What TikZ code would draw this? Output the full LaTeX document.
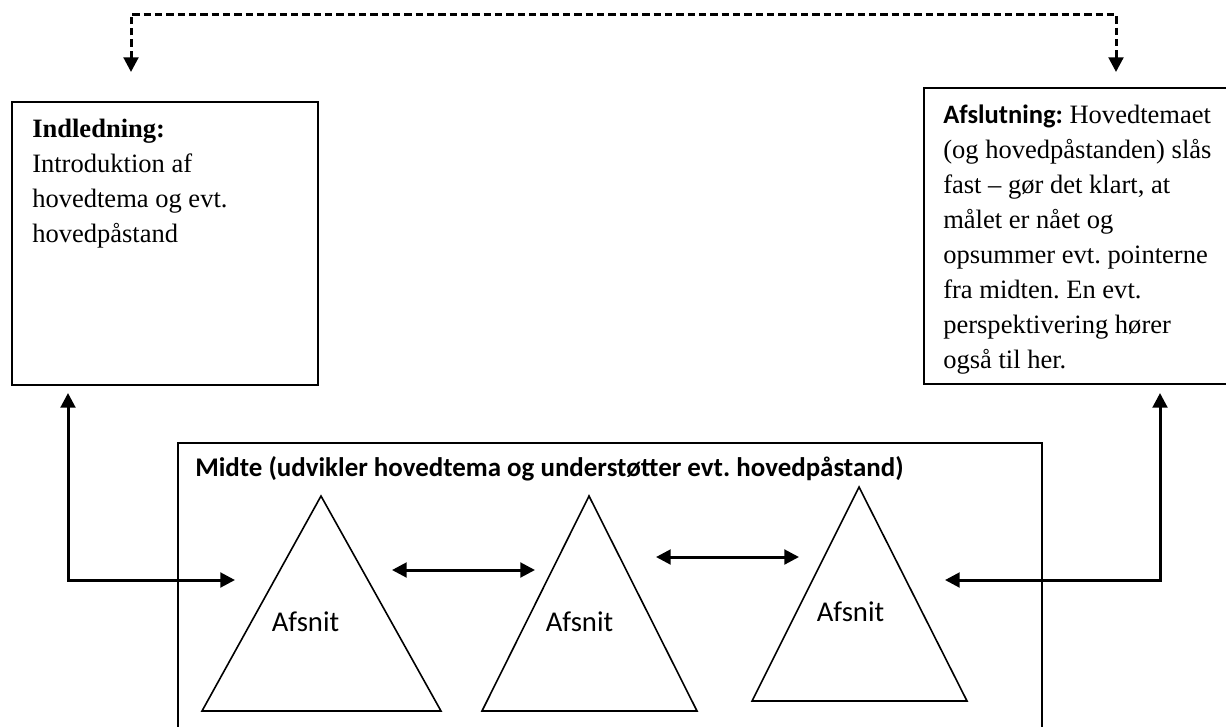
\documentclass[tikz,border=0pt]{standalone}
\usepackage{fontspec}
\setmainfont{Liberation Serif}
\newfontfamily\calibri{Carlito}
\usetikzlibrary{arrows.meta, positioning}
\frenchspacing

\tikzset{
  boxframe/.style={draw, line width=1.3pt, inner sep=0pt, anchor=north west},
  boxtext/.style={anchor=north west, inner sep=0pt, align=left,
    font=\fontsize{19.9}{26.25}\selectfont},
  afsnit/.style={inner sep=0pt, anchor=base, font=\calibri\fontsize{21.5}{26}\selectfont},
  tri/.style={line width=1.2pt, line join=miter},
  link/.style={line width=2.25pt, {Triangle[length=11pt,width=11pt]}-{Triangle[length=11pt,width=11pt]}},
  loopback/.style={link, dash pattern=on 5.5pt off 3pt}
}

\begin{document}
\begin{tikzpicture}[x=0.75pt, y=-0.75pt]

		\useasboundingbox (0,0) rectangle (1226,726);
		\clip (0,0) rectangle (1226,726);

		% Indledning (left box)
		\node[boxframe, minimum width=229.5pt, minimum height=212.25pt] (intro) at (11,101) {};
		\node[boxtext] (introtxt) at (32,119)
		{\textbf{Indledning:}\\ Introduktion af\\ hovedtema og evt.\\ hovedpåstand};

		% Afslutning (right box, runs off the page)
		\node[boxframe, minimum width=234.75pt, minimum height=222pt] (concl) at (923,87) {};
		\node[boxtext] (concltxt) at (943,105)
		{{\calibri\bfseries Afslutning:} Hovedtemaet\\ (og hovedpåstanden) slås\\
		 fast – gør det klart, at\\ målet er nået og\\ opsummer evt. pointerne\\
		 fra midten. En evt.\\ perspektivering hører\\ også til her.};

		% Midte (bottom box, runs off the page)
		\node[boxframe, minimum width=648pt, minimum height=223.5pt] (midte) at (177,442) {};
		\node[anchor=base west, inner sep=0pt, font=\calibri\bfseries\fontsize{20.2}{24}\selectfont]
		(midtetitle) at (195,476) {Midte (udvikler hovedtema og understøtter evt. hovedpåstand)};

		% the three Afsnit triangles
		\draw[tri] (321,496) -- (441,711) -- (202,711) -- cycle;
		\draw[tri] (589,496) -- (697,711) -- (482,711) -- cycle;
		\draw[tri] (859,487) -- (967,701) -- (752,701) -- cycle;
		\node[afsnit] (afsnit1) at (305.5,631) {Afsnit};
		\node[afsnit] (afsnit2) at (579.5,631) {Afsnit};
		\node[afsnit] (afsnit3) at (850.5,621) {Afsnit};

		% connector ends
		\coordinate (intro-in) at (68,393);
		\coordinate (concl-in) at (1160,393);
		\coordinate (t1-in) at (235,580);
		\coordinate (t3-in) at (945,580);
		\coordinate (intro-top) at (131,72);
		\coordinate (concl-top) at (1116,72);
		\coordinate (a1-l) at (392,570);
		\coordinate (a1-r) at (535,570);
		\coordinate (a2-l) at (656,557);
		\coordinate (a2-r) at (799,557);

		% arrows
		\draw[link] (t1-in) -| (intro-in);
		\draw[link] (t3-in) -| (concl-in);
		\draw[link] (a1-l) -- (a1-r);
		\draw[link] (a2-l) -- (a2-r);
		\draw[loopback] (intro-top) -- ++(0,-58) -| (concl-top);

\end{tikzpicture}
\end{document}
